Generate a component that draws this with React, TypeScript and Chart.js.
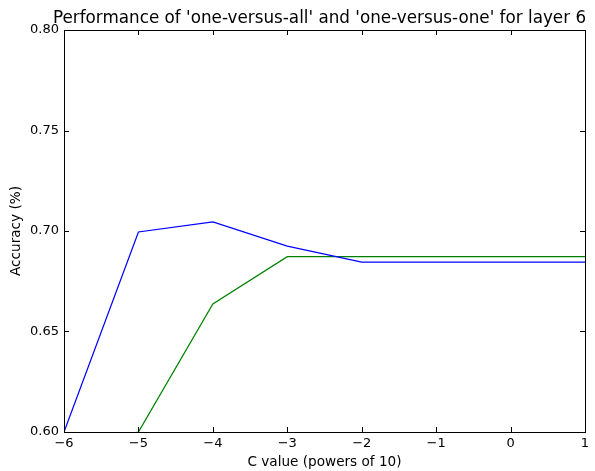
import React, { useEffect, useRef } from "react";
import { Chart, registerables } from "chart.js";

Chart.register(...registerables);

const titleText = "Performance of 'one-versus-all' and 'one-versus-one' for layer 6";
const xLabel = "C value (powers of 10)";
const yLabel = "Accuracy (%)";

const cPowers = [-6, -5, -4, -3, -2, -1, 0, 1];
const oneVsAll = [0.6, 0.6995, 0.7045, 0.6925, 0.6845, 0.6845, 0.6845, 0.6845];
const oneVsOne = [0.59, 0.6, 0.6637, 0.6872, 0.6872, 0.6872, 0.6872, 0.6872];

const xMin = -6;
const xMax = 1;
const yMin = 0.6;
const yMax = 0.8;

const FONT = '"DejaVu Sans", sans-serif';

const minus = (v: number, digits: number) => {
  const s = Number(v).toFixed(digits);
  return s.replace("-", "\u2212");
};

const framePlugin = {
  id: "frame",
  afterDraw(chart: any) {
    const { ctx, chartArea, scales } = chart;
    const { left, right, top, bottom } = chartArea;
    const xs = scales.x;
    const ys = scales.y;
    ctx.save();
    ctx.strokeStyle = "#000";
    ctx.lineWidth = 1;
    ctx.strokeRect(Math.round(left) + 0.5, Math.round(top) + 0.5, Math.round(right - left), Math.round(bottom - top));
    const tl = 5;
    ctx.beginPath();
    xs.ticks.forEach((t: any) => {
      const px = Math.round(xs.getPixelForValue(t.value)) + 0.5;
      ctx.moveTo(px, bottom);
      ctx.lineTo(px, bottom - tl);
      ctx.moveTo(px, top);
      ctx.lineTo(px, top + tl);
    });
    ys.ticks.forEach((t: any) => {
      const py = Math.round(ys.getPixelForValue(t.value)) + 0.5;
      ctx.moveTo(left, py);
      ctx.lineTo(left + tl, py);
      ctx.moveTo(right, py);
      ctx.lineTo(right - tl, py);
    });
    ctx.stroke();

    ctx.fillStyle = "#000";
    ctx.textAlign = "center";
    ctx.textBaseline = "alphabetic";
    ctx.font = `16.8px ${FONT}`;
    ctx.fillText(titleText, (left + right) / 2 - 5, top - 7);

    ctx.font = `13.6px ${FONT}`;
    ctx.textBaseline = "middle";
    ctx.fillText(xLabel, (left + right) / 2, 462);

    ctx.translate(16, (top + bottom) / 2);
    ctx.rotate(-Math.PI / 2);
    ctx.fillText(yLabel, 0, 0);
    ctx.restore();
  },
};

export default function App() {
  const ref = useRef<HTMLCanvasElement | null>(null);

  useEffect(() => {
    if (!ref.current) return;
    const chart = new Chart(ref.current, {
      type: "line",
      data: {
        datasets: [
          {
            label: "one-versus-all",
            data: cPowers.map((x, i) => ({ x, y: oneVsAll[i] })),
            borderColor: "#0000ff",
            borderWidth: 1.25,
            pointRadius: 0,
            tension: 0,
            fill: false,
          },
          {
            label: "one-versus-one",
            data: cPowers.map((x, i) => ({ x, y: oneVsOne[i] })),
            borderColor: "#008000",
            borderWidth: 1.25,
            pointRadius: 0,
            tension: 0,
            fill: false,
          },
        ],
      },
      options: {
        animation: false,
        responsive: false,
        layout: { padding: { left: 0, right: 10, top: 30, bottom: 0 } },
        plugins: {
          legend: { display: false },
          title: { display: false },
          tooltip: { enabled: false },
        },
        scales: {
          x: {
            type: "linear",
            min: xMin,
            max: xMax,
            grid: { display: false, drawTicks: false },
            border: { display: false },
            ticks: {
              stepSize: 1,
              padding: 4,
              color: "#000",
              font: { family: FONT, size: 13 },
              maxRotation: 0,
              callback: (v: any) => minus(v, 0),
            },
            afterFit: (s: any) => {
              s.height = 39;
            },
          },
          y: {
            min: yMin,
            max: yMax,
            grid: { display: false, drawTicks: false },
            border: { display: false },
            ticks: {
              stepSize: 0.05,
              padding: 5,
              color: "#000",
              font: { family: FONT, size: 13 },
              callback: (v: any) => minus(v, 2),
            },
            afterFit: (s: any) => {
              s.width = 64;
            },
          },
        },
      },
      plugins: [framePlugin],
    });
    return () => chart.destroy();
  }, []);

  return (
    <div style={{ position: "absolute", left: 0, top: 0, width: 595, height: 471, background: "#fff" }}>
      <canvas ref={ref} width={595} height={471} />
    </div>
  );
}
